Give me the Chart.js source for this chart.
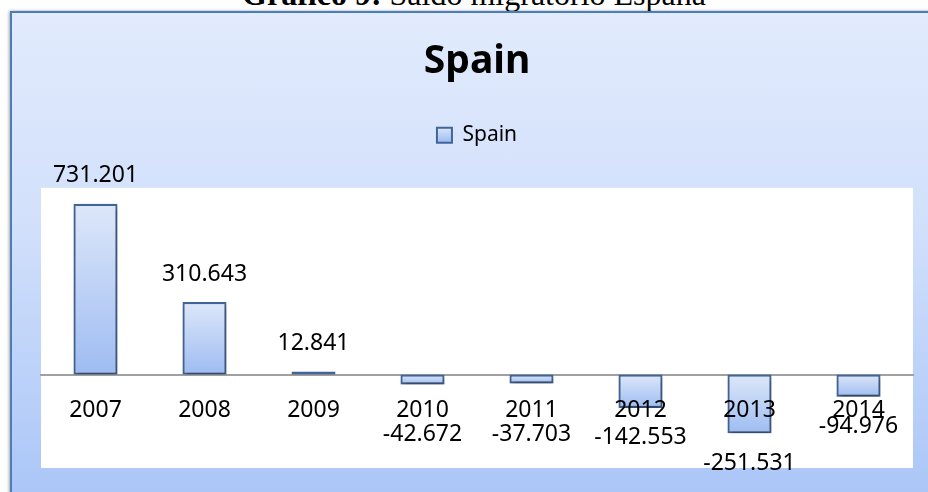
<!DOCTYPE html>
<html>
<head>
<meta charset="utf-8">
<script src="https://cdn.jsdelivr.net/npm/chart.js@4/dist/chart.umd.min.js"></script>
<style>
  html, body { margin: 0; padding: 0; }
  body { width: 928px; height: 492px; overflow: hidden; position: relative; background: #fff; }
  #titulo {
    position: absolute; left: 0; top: -22px; width: 948px; text-align: center;
    font-family: "Liberation Serif", "Times New Roman", serif; font-size: 32px; line-height: 32px; color: #000;
  }
  #caixa {
    position: absolute; left: 10px; top: 11px; width: 960px; height: 520px;
    border-left: 2px solid #4a7ebb; border-top: 2px solid #4a7ebb;
    background: linear-gradient(to bottom, #e2ebfd 0%, #d2e0fb 40%, #a5c3f7 100%);
    box-shadow: -1px 0 3px rgba(0,0,0,0.35);
  }
  #grafico { position: absolute; left: 0; top: 0; }
</style>
</head>
<body>
<div id="titulo"><b>Gráfico 9:</b> Saldo migratorio España</div>
<div id="caixa"></div>
<canvas id="grafico" width="928" height="492"></canvas>
<script>
// dados (valores em pessoas)
const anos = ['2007', '2008', '2009', '2010', '2011', '2012', '2013', '2014'];
const saldo = [731201, 310643, 12841, -42672, -37703, -142553, -251531, -94976];
const serieNome = 'Spain';

// formata com ponto de milhar, ex: 731.201
function formatar(v) {
    const s = Math.abs(v).toString().replace(/\B(?=(\d{3})+(?!\d))/g, '.');
    return (v < 0 ? '-' : '') + s;
}

function gradiente(ctx, y1, y2) {
    const g = ctx.createLinearGradient(0, y1, 0, y2);
    g.addColorStop(0, '#dde7f9');
    g.addColorStop(1, '#9ebcf2');
    return g;
}

// fundo branco da área do gráfico
const fundoBranco = {
    id: 'fundoBranco',
    beforeDraw(chart) {
        const a = chart.chartArea;
        chart.ctx.save();
        chart.ctx.fillStyle = '#ffffff';
        chart.ctx.fillRect(a.left, a.top, a.right - a.left, a.bottom - a.top);
        chart.ctx.restore();
    }
};

// sombra nas barras
const sombra = {
    id: 'sombra',
    beforeDatasetsDraw(chart) {
        const ctx = chart.ctx;
        ctx.save();
        ctx.shadowColor = 'rgba(0,0,0,0.35)';
        ctx.shadowBlur = 4;
        ctx.shadowOffsetX = 1;
        ctx.shadowOffsetY = 3;
    },
    afterDatasetsDraw(chart) {
        chart.ctx.restore();
    }
};

// rótulos de valor
const rotulos = {
    id: 'rotulos',
    afterDraw(chart) {
        const ctx = chart.ctx;
        const zero = chart.scales.y.getPixelForValue(0);
        const meta = chart.getDatasetMeta(0);
        ctx.save();
        ctx.font = '23px "Noto Sans"';
        ctx.fillStyle = '#000';
        ctx.textAlign = 'center';
        ctx.textBaseline = 'middle';
        meta.data.forEach((bar, i) => {
            const v = saldo[i];
            let y;
            if (v >= 0) {
                y = bar.y - 28;
            } else {
                y = bar.y + 30;
                // barras pequenas: rótulo vai abaixo do ano
                if (y < zero + 42) y = zero + 60;
            }
            ctx.fillText(formatar(v), bar.x, y);
        });
        ctx.restore();
    }
};

const ctx = document.getElementById('grafico').getContext('2d');
new Chart(ctx, {
    type: 'bar',
    data: {
        labels: anos,
        datasets: [{
            label: serieNome,
            data: saldo,
            backgroundColor: function (c) {
                const chart = c.chart;
                if (!chart.chartArea || c.dataIndex === undefined) return '#b9cff5';
                const y = chart.scales.y;
                const v = c.raw;
                const a = y.getPixelForValue(Math.max(v, 0));
                const b = y.getPixelForValue(Math.min(v, 0));
                return gradiente(chart.ctx, a, b + 0.01);
            },
            borderColor: '#41659a',
            borderWidth: 2.2,
            borderSkipped: false,
            barPercentage: 0.404,
            categoryPercentage: 1
        }]
    },
    options: {
        responsive: false,
        animation: false,
        layout: { padding: { top: 14, left: 41, right: 15, bottom: 24 } },
        plugins: {
            title: {
                display: true,
                text: 'Spain',
                color: '#000',
                font: { family: 'Noto Sans', size: 39, weight: 'bold', lineHeight: 1.2 },
                padding: { top: 24, bottom: 10 }
            },
            legend: {
                display: true,
                weight: 1000,
                labels: {
                    color: '#000',
                    font: { family: 'Noto Sans', size: 21 },
                    boxWidth: 15,
                    boxHeight: 15,
                    padding: 30,
                    generateLabels(chart) {
                        const itens = Chart.defaults.plugins.legend.labels.generateLabels(chart);
                        itens.forEach(it => {
                            it.fillStyle = gradiente(chart.ctx, 127, 142);
                            it.strokeStyle = '#41659a';
                            it.lineWidth = 2;
                        });
                        return itens;
                    }
                }
            },
            // espaço entre a legenda e a área branca
            subtitle: {
                display: true,
                text: '',
                weight: 100,
                font: { size: 12, lineHeight: 1 },
                padding: { top: 0, bottom: 20 }
            },
            tooltip: { enabled: false }
        },
        scales: {
            x: {
                position: { y: 0 },
                grid: { display: false, drawTicks: false },
                border: { display: true, color: '#a0a0a0', width: 2 },
                ticks: {
                    z: 1,
                    color: '#000',
                    font: { family: 'Noto Sans', size: 23 },
                    padding: 22,
                    maxRotation: 0
                }
            },
            y: {
                display: false,
                min: -400000,
                max: 800000
            }
        }
    },
    plugins: [fundoBranco, sombra, rotulos]
});
</script>
</body>
</html>
